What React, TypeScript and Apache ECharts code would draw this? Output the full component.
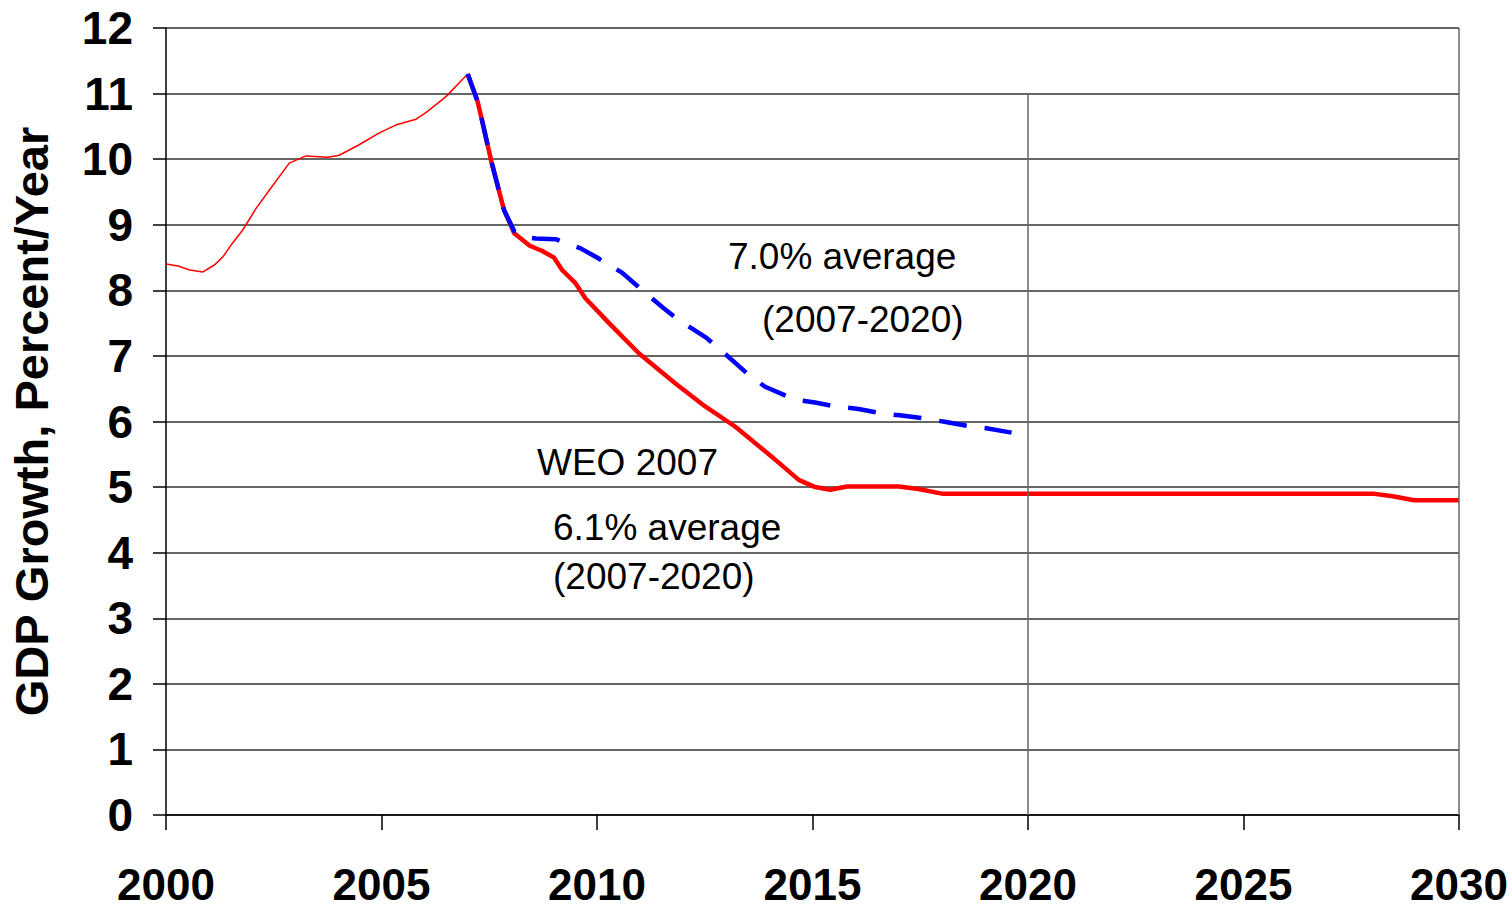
import React, { useEffect, useRef } from "react";
import * as echarts from "echarts";

const histYears = [2000, 2000.28, 2000.55, 2000.86, 2001.13, 2001.32, 2001.51, 2001.78, 2002.09, 2002.4, 2002.86, 2003.25, 2003.75, 2004.02, 2004.48, 2004.95, 2005.33, 2005.8, 2006.03, 2006.49, 2007];
const histValues = [8.4, 8.37, 8.31, 8.28, 8.39, 8.51, 8.69, 8.92, 9.25, 9.53, 9.94, 10.05, 10.03, 10.06, 10.22, 10.4, 10.52, 10.61, 10.71, 10.95, 11.3];

const weoYears = [2007, 2007.23, 2007.34, 2007.54, 2007.84, 2008.08, 2008.44, 2008.73, 2009.0, 2009.19, 2009.5, 2009.73, 2010.28, 2010.97, 2011.82, 2012.51, 2013.21, 2014.06, 2014.68, 2015.06, 2015.41, 2015.8, 2017.0, 2017.46, 2018.0, 2020, 2025, 2028.0, 2028.46, 2028.96, 2030];
const weoValues = [11.3, 10.88, 10.57, 9.99, 9.23, 8.87, 8.68, 8.6, 8.5, 8.31, 8.11, 7.88, 7.5, 7.04, 6.58, 6.23, 5.92, 5.46, 5.11, 5.0, 4.96, 5.01, 5.01, 4.97, 4.9, 4.9, 4.9, 4.9, 4.86, 4.8, 4.8];

const altYears = [2007, 2007.23, 2007.34, 2007.54, 2007.84, 2008.08, 2008.27, 2008.58, 2009.04, 2009.62, 2010.0, 2010.58, 2010.93, 2011.54, 2011.89, 2012.55, 2012.94, 2013.52, 2013.9, 2014.6, 2015.06, 2015.53, 2016.07, 2016.65, 2017.07, 2017.57, 2018.03, 2018.61, 2019.0, 2019.62];
const altValues = [11.3, 10.88, 10.57, 9.99, 9.23, 8.9, 8.82, 8.79, 8.78, 8.64, 8.5, 8.27, 8.07, 7.73, 7.55, 7.27, 7.05, 6.71, 6.53, 6.33, 6.29, 6.23, 6.19, 6.12, 6.09, 6.05, 6.0, 5.93, 5.9, 5.83];

const yAxisName = "GDP Growth, Percent/Year";
const notes = [
  { text: "7.0% average", x: 728, y: 259 },
  { text: "(2007-2020)", x: 762, y: 322 },
  { text: "WEO 2007", x: 537, y: 465 },
  { text: "6.1% average", x: 553, y: 530 },
  { text: "(2007-2020)", x: 553, y: 579 },
];

const FONT = "'Liberation Sans', Arial, sans-serif";

const zip = (xs: number[], ys: number[]) => xs.map((x, i) => [x, ys[i]]);

export default function App() {
  const ref = useRef<HTMLDivElement>(null);
  useEffect(() => {
    if (!ref.current) return;
    const chart = echarts.init(ref.current, null, { renderer: "svg" });
    chart.setOption({
      animation: false,
      backgroundColor: "#ffffff",
      grid: { left: 163, right: 53, top: 28, bottom: 92 },
      xAxis: {
        type: "value",
        min: 2000,
        max: 2030,
        interval: 5,
        axisLine: { show: true, lineStyle: { color: "#000", width: 1.5 } },
        axisTick: { show: true, length: 15, lineStyle: { color: "#000", width: 1.5 } },
        axisLabel: {
          fontFamily: FONT,
          fontSize: 44,
          lineHeight: 38,
          fontWeight: "bold",
          color: "#000",
          margin: 50,
          formatter: (v: number) => String(v),
        },
        splitLine: { show: false },
      },
      yAxis: {
        type: "value",
        min: 0,
        max: 12,
        interval: 1,
        name: yAxisName,
        nameLocation: "middle",
        nameGap: 111,
        nameTextStyle: { fontFamily: FONT, fontSize: 47, fontWeight: "bold", color: "#000" },
        axisLine: { show: true, lineStyle: { color: "#000", width: 1.5 } },
        axisTick: { show: true, length: 13, lineStyle: { color: "#000", width: 1.5 } },
        axisLabel: { fontFamily: FONT, fontSize: 46, fontWeight: "bold", color: "#000", margin: 33 },
        splitLine: { show: true, lineStyle: { color: "#333", width: 1.5 } },
      },
      series: [
        {
          type: "line",
          data: zip(histYears, histValues),
          showSymbol: false,
          lineStyle: { color: "#ff0000", width: 1.5 },
          z: 2,
          markLine: {
            silent: true,
            symbol: "none",
            label: { show: false },
            lineStyle: { color: "#666", width: 1.5, type: "solid" },
            data: [
              [{ coord: [2020, 0] }, { coord: [2020, 11] }],
              [{ coord: [2030, 0] }, { coord: [2030, 12] }],
            ],
          },
        },
        {
          type: "line",
          data: zip(weoYears, weoValues),
          showSymbol: false,
          lineStyle: { color: "#ff0000", width: 4.5 },
          z: 3,
        },
        {
          type: "line",
          data: zip(altYears, altValues),
          showSymbol: false,
          lineStyle: { color: "#0000ff", width: 4.5, type: [28, 18] },
          z: 4,
        },
      ],
      graphic: notes.map((n) => ({
        type: "text",
        left: n.x,
        top: n.y - 21,
        style: { text: n.text, fontFamily: FONT, fontSize: 37, fill: "#000" },
      })),
    });
    return () => chart.dispose();
  }, []);
  return (
    <div
      ref={ref}
      style={{ position: "absolute", left: 0, top: 0, width: 1512, height: 907 }}
    />
  );
}
